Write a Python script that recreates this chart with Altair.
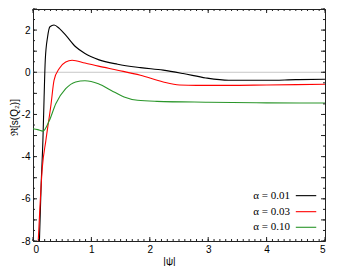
import altair as alt
import pandas as pd

# ---- data ----
series_labels = ["α = 0.01", "α = 0.03", "α = 0.10"]
series_colors = ["#000000", "#ff0000", "#2a962a"]

psi_a001 = [0.11, 0.14, 0.17, 0.19, 0.21, 0.25, 0.29, 0.36, 0.45, 0.56, 0.73, 0.89, 1.12,
            1.45, 1.84, 2.23, 2.57, 2.96, 3.35, 4.00, 4.50, 5.00]
val_a001 = [-8.0, -5.3, -3.2, -1.2, 0.57, 1.68, 2.16, 2.24, 2.08, 1.76, 1.21, 0.89, 0.60,
            0.38, 0.22, 0.10, -0.06, -0.27, -0.38, -0.38, -0.35, -0.33]

psi_a003 = [0.09, 0.16, 0.22, 0.31, 0.36, 0.45, 0.56, 0.67, 0.89, 1.12, 1.45, 1.84, 2.23,
            2.51, 2.80, 3.35, 4.00, 5.00]
val_a003 = [-8.0, -4.5, -3.24, -1.49, -0.38, 0.18, 0.49, 0.57, 0.44, 0.29, 0.10, -0.14, -0.46,
            -0.60, -0.62, -0.62, -0.60, -0.57]

psi_a010 = [0.0, 0.08, 0.17, 0.28, 0.39, 0.56, 0.73, 0.89, 1.12, 1.34, 1.56, 1.79, 2.12,
            3.00, 4.00, 5.00]
val_a010 = [-2.68, -2.72, -2.79, -2.29, -1.49, -0.78, -0.46, -0.40, -0.54, -0.86, -1.17, -1.33,
            -1.38, -1.42, -1.45, -1.46]

x_tick_labels = [0, 1, 2, 3, 4, 5]
y_tick_labels = [-8, -6, -4, -2, 0, 2]

# ---- layout ----
W, H = 292, 232
FRAME = "#222222"

rows = []
for lab, xs, ys in zip(series_labels, [psi_a001, psi_a003, psi_a010], [val_a001, val_a003, val_a010]):
    for x, y in zip(xs, ys):
        rows.append({"psi": x, "val": y, "series": lab})
df = pd.DataFrame(rows)

xscale = alt.Scale(domain=[0, 5], nice=False, zero=False)
yscale = alt.Scale(domain=[-8, 3], nice=False, zero=False)
color_scale = alt.Scale(domain=series_labels, range=series_colors)

lines = alt.Chart(df).mark_line(clip=True, strokeWidth=1.1, interpolate="monotone").encode(
    x=alt.X("psi:Q", scale=xscale, axis=alt.Axis(
        values=x_tick_labels, ticks=False, domain=False, grid=False,
        labelExpr="'' + datum.value",
        labelFont="Liberation Sans", labelFontSize=10, labelColor="#000", labelPadding=3,
        title="|ψ|", titleFont="Liberation Sans", titleFontSize=10, titleFontWeight="normal",
        titleColor="#000", titleX=136, titleY=23, titleBaseline="alphabetic", titleAlign="center")),
    y=alt.Y("val:Q", scale=yscale, axis=alt.Axis(
        values=y_tick_labels, ticks=False, domain=False, grid=False,
        labelExpr="'' + datum.value",
        labelFont="Liberation Sans", labelFontSize=10, labelColor="#000", labelPadding=3,
        title="ℜ[s(Q₂)]", titleFont="Liberation Sans", titleFontSize=10, titleFontWeight="normal",
        titleColor="#000", titleX=-14, titleY=108, titleAngle=270, titleBaseline="bottom",
        titleAlign="center")),
    color=alt.Color("series:N", scale=color_scale, legend=None),
)

zero_line = alt.Chart(pd.DataFrame({"z": [0]})).mark_rule(color="#c8c8c8", strokeWidth=1).encode(
    y=alt.Y("z:Q", scale=yscale)
)

# ---- inward ticks on all four sides ----
x_minor = [round(i * 0.1, 2) for i in range(51)]
y_minor = [-8 + i * 0.5 for i in range(23)]


def x_ticks(vals, length, top):
    base = alt.Chart(pd.DataFrame({"v": vals})).mark_rule(color=FRAME, strokeWidth=1)
    if top:
        return base.encode(x=alt.X("v:Q", scale=xscale), y=alt.value(0), y2=alt.value(length))
    return base.encode(x=alt.X("v:Q", scale=xscale), y=alt.value(H), y2=alt.value(H - length))


def y_ticks(vals, length, right):
    base = alt.Chart(pd.DataFrame({"v": vals})).mark_rule(color=FRAME, strokeWidth=1)
    if right:
        return base.encode(y=alt.Y("v:Q", scale=yscale), x=alt.value(W), x2=alt.value(W - length))
    return base.encode(y=alt.Y("v:Q", scale=yscale), x=alt.value(0), x2=alt.value(length))


y_major = list(range(-8, 4))
ticks = [
    x_ticks(x_minor, 2, False), x_ticks(x_tick_labels, 4, False),
    x_ticks(x_minor, 2, True), x_ticks(x_tick_labels, 4, True),
    y_ticks(y_minor, 2, False), y_ticks(y_major, 4, False),
    y_ticks(y_minor, 2, True), y_ticks(y_major, 4, True),
]

# ---- legend (label left, line sample right) ----
legend_rows_y = [-5.85, -6.61, -7.35]
leg = pd.DataFrame({"series": series_labels, "ly": legend_rows_y,
                    "tx": [4.40] * 3, "x1": [4.50] * 3, "x2": [4.85] * 3})

leg_text = alt.Chart(leg).mark_text(align="right", baseline="middle", font="Liberation Serif",
                                    fontSize=11, color="#000").encode(
    x=alt.X("tx:Q", scale=xscale), y=alt.Y("ly:Q", scale=yscale), text="series:N")
leg_line = alt.Chart(leg).mark_rule(strokeWidth=1.1).encode(
    x=alt.X("x1:Q", scale=xscale), x2="x2:Q", y=alt.Y("ly:Q", scale=yscale),
    color=alt.Color("series:N", scale=color_scale, legend=None))

chart = alt.layer(zero_line, lines, *ticks, leg_text, leg_line).properties(
    width=W, height=H,
    autosize=alt.AutoSizeParams(type="none"),
    padding={"left": 25, "top": 1, "right": 9, "bottom": 25},
).configure_view(stroke=FRAME, strokeWidth=1)

chart.save("out.html", embed_options={"renderer": "svg", "actions": False})
